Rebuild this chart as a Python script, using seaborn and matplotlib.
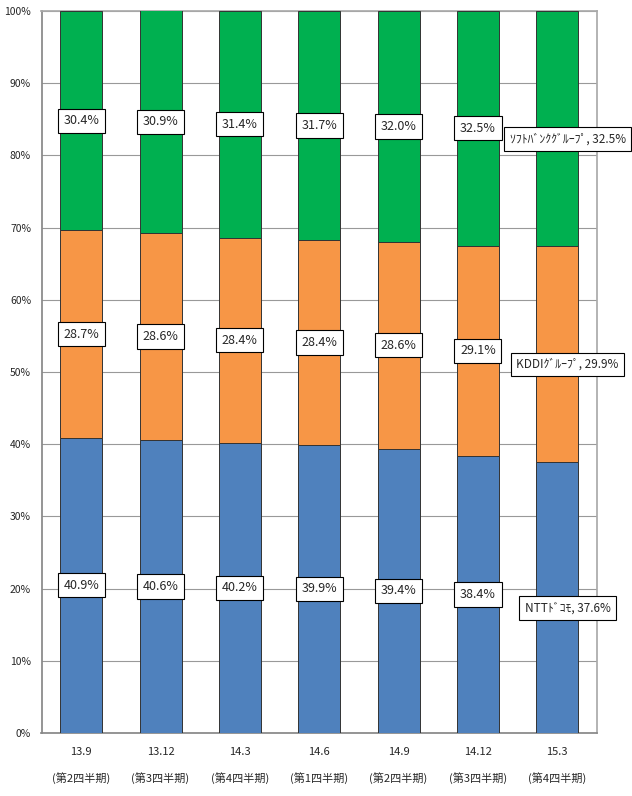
import matplotlib
matplotlib.use("Agg")
import matplotlib.pyplot as plt
import seaborn as sns
import numpy as np
import pandas as pd

sns.set_theme(style="white")
plt.rcParams['font.family'] = ['Noto Sans CJK JP', 'DejaVu Sans']

periods = ["13.9", "13.12", "14.3", "14.6", "14.9", "14.12", "15.3"]
quarters = ["(第2四半期)", "(第3四半期)", "(第4四半期)", "(第1四半期)", "(第2四半期)", "(第3四半期)", "(第4四半期)"]
ntt = [40.9, 40.6, 40.2, 39.9, 39.4, 38.4, 37.6]
kddi = [28.7, 28.6, 28.4, 28.4, 28.6, 29.1, 29.9]
softbank = [30.4, 30.9, 31.4, 31.7, 32.0, 32.5, 32.5]
names = ["NTTﾄﾞｺﾓ", "KDDIｸﾞﾙｰﾌﾟ", "ｿﾌﾄﾊﾞﾝｸｸﾞﾙｰﾌﾟ"]
colors = ["#4F81BD", "#F79646", "#00B050"]

fig = plt.figure(figsize=(6.32, 7.96), dpi=100)
ax = fig.add_axes([41.5 / 632, 63 / 796, 555.5 / 632, 722 / 796])
x = np.arange(len(periods))
series = [ntt, kddi, softbank]
bottom = np.zeros(len(periods))
for vals, c in zip(series, colors):
    df = pd.DataFrame({"x": x, "v": vals})
    ax.bar(df["x"], df["v"], bottom=bottom, color=c, width=0.53, edgecolor="#333333", linewidth=0.7, zorder=3)
    bottom = bottom + np.array(vals)

bottom = np.zeros(len(periods))
for si, vals in enumerate(series):
    for i, v in enumerate(vals):
        y = bottom[i] + v / 2
        if i == len(periods) - 1:
            txt = f"{names[si]}, {v:.1f}%"
            ax.text(i + 0.13, y - 1.5, txt, ha="center", va="center", fontsize=8.5, zorder=5,
                    bbox=dict(boxstyle="square,pad=0.45", fc="white", ec="black", lw=0.8))
        else:
            ax.text(i, y, f"{v:.1f}%", ha="center", va="center", fontsize=9, zorder=5,
                    bbox=dict(boxstyle="square,pad=0.45", fc="white", ec="black", lw=0.8))
    bottom = bottom + np.array(vals)

ax.set_xlim(-0.5, len(periods) - 0.5)
ax.set_ylim(0, 100)
ax.set_yticks(np.arange(0, 101, 10))
ax.set_yticklabels([f"{t}%" for t in range(0, 101, 10)], fontsize=7.5)
ax.yaxis.grid(True, color="#999999", lw=0.8, zorder=0)
ax.set_xticks(np.arange(-0.5, len(periods), 1))
ax.set_xticklabels([])
ax.set_xticks(x, minor=True)
ax.set_xticklabels([f"{p}\n\n{q}" for p, q in zip(periods, quarters)], minor=True, fontsize=8, linespacing=1.3)
ax.tick_params(axis="x", which="minor", length=0, pad=10)
ax.tick_params(axis="x", which="major", length=4, color="#888888")
ax.tick_params(axis="y", length=4, color="#888888")
for s in ["top", "right"]:
    ax.spines[s].set_color("#aaaaaa")
for s in ["left", "bottom"]:
    ax.spines[s].set_color("#888888")
fig.savefig("out.png", dpi=100)
